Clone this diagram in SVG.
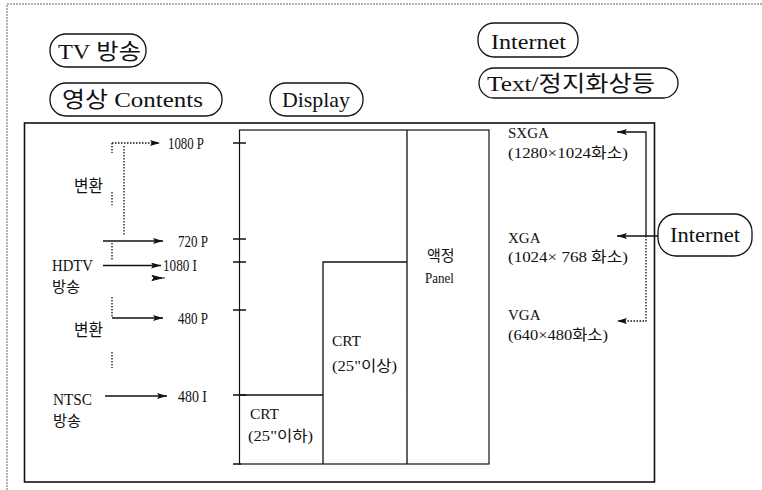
<svg xmlns="http://www.w3.org/2000/svg" width="762" height="490" viewBox="0 0 762 490">
<style>
text{font-family:"Liberation Serif","Noto Sans CJK KR",serif;fill:#111}
.lat{font-family:"Liberation Serif",serif}
.lbl{font-size:15px}
.fmt{font-size:17px}
.big{font-size:17px}
.pt{font-size:22px}
.pill{fill:#fff;stroke:#111;stroke-width:1.3}
.sol{fill:none;stroke:#111;stroke-width:1.3}
.dot{fill:none;stroke:#111;stroke-width:1.3;stroke-dasharray:1.5 1.5}
.frame{fill:none;stroke:#999;stroke-width:1.5;stroke-dasharray:2 1}
.box{fill:none;stroke:#111;stroke-width:1.6}
</style>
<defs>
<marker id="ah" viewBox="0 0 10 6" refX="10" refY="3" markerWidth="10" markerHeight="6" markerUnits="userSpaceOnUse" orient="auto">
<path d="M0,0 L10,3 L0,6 L2,3 z" fill="#111"/>
</marker>
</defs>
<rect width="762" height="490" fill="#fff"/>
<g id="frame">
<path class="frame" d="M7,490 V4 H762"/>
<rect class="box" x="24.5" y="123" width="630" height="359"/>
</g>
<g id="pill-tv">
<rect class="pill" x="50" y="34" width="96" height="33" rx="16"/>
<text class="pt" x="58" y="59" textLength="83" lengthAdjust="spacingAndGlyphs"><tspan class="lat">TV</tspan> 방송</text>
</g>
<g id="pill-contents">
<rect class="pill" x="50" y="83" width="172" height="33" rx="16"/>
<text class="pt" x="62" y="107" textLength="141" lengthAdjust="spacingAndGlyphs">영상 <tspan class="lat">Contents</tspan></text>
</g>
<g id="pill-display">
<rect class="pill" x="270" y="83" width="93" height="33" rx="16"/>
<text class="pt lat" x="282" y="107" textLength="68" lengthAdjust="spacingAndGlyphs">Display</text>
</g>
<g id="pill-internet-top">
<rect class="pill" x="478" y="23" width="100" height="34" rx="16"/>
<text class="pt lat" x="491" y="49" textLength="75" lengthAdjust="spacingAndGlyphs">Internet</text>
</g>
<g id="pill-text">
<rect class="pill" x="479" y="68" width="199" height="30" rx="15"/>
<text class="pt" x="487" y="91" textLength="168" lengthAdjust="spacingAndGlyphs"><tspan class="lat">Text/</tspan>정지화상등</text>
</g>
<g id="pill-internet-right">
<rect class="pill" x="658" y="214" width="94" height="42" rx="18"/>
<text class="pt lat" x="670" y="242" textLength="70" lengthAdjust="spacingAndGlyphs">Internet</text>
</g>
<g id="sources">
<text class="fmt" x="74" y="192" textLength="29" lengthAdjust="spacingAndGlyphs">변환</text>
<text class="big lat" x="52" y="271" textLength="41" lengthAdjust="spacingAndGlyphs">HDTV</text>
<text class="lbl" x="52" y="292" textLength="28" lengthAdjust="spacingAndGlyphs">방송</text>
<text class="fmt" x="74" y="336" textLength="29" lengthAdjust="spacingAndGlyphs">변환</text>
<text class="big lat" x="53" y="405" textLength="39" lengthAdjust="spacingAndGlyphs">NTSC</text>
<text class="lbl" x="53" y="426" textLength="28" lengthAdjust="spacingAndGlyphs">방송</text>
</g>
<g id="formats">
<text class="fmt lat" x="168" y="149" textLength="36" lengthAdjust="spacingAndGlyphs">1080 P</text>
<text class="fmt lat" x="178" y="247" textLength="30" lengthAdjust="spacingAndGlyphs">720 P</text>
<text class="fmt lat" x="163" y="271" textLength="34" lengthAdjust="spacingAndGlyphs">1080 I</text>
<text class="fmt lat" x="178" y="324" textLength="30" lengthAdjust="spacingAndGlyphs">480 P</text>
<text class="fmt lat" x="178" y="402" textLength="29" lengthAdjust="spacingAndGlyphs">480 I</text>
</g>
<g id="display">
<rect class="box" x="239.5" y="130" width="249.5" height="334" style="stroke-width:1.2"/>
<path class="sol" d="M407,130 V464 M323,464 V262 H407 M240,395 H323"/>
<path class="sol" d="M233,143 H246 M233,239 H246 M233,262 H246 M233,310 H246 M233,395 H246 M233,464 H241"/>
</g>
<g id="crt-small">
<text class="lbl lat" x="250" y="419" textLength="29" lengthAdjust="spacingAndGlyphs">CRT</text>
<text class="lbl" x="248" y="441" textLength="65" lengthAdjust="spacingAndGlyphs">(25"이하)</text>
</g>
<g id="crt-large">
<text class="lbl lat" x="332" y="346" textLength="29" lengthAdjust="spacingAndGlyphs">CRT</text>
<text class="lbl" x="332" y="371" textLength="65" lengthAdjust="spacingAndGlyphs">(25"이상)</text>
</g>
<g id="lcd">
<text class="lbl" x="427" y="261">액정</text>
<text class="lbl lat" x="425" y="283" textLength="29" lengthAdjust="spacingAndGlyphs">Panel</text>
</g>
<g id="resolutions">
<text class="lbl lat" x="508" y="138">SXGA</text>
<text class="lbl" x="508" y="158" textLength="120" lengthAdjust="spacingAndGlyphs">(1280×1024화소)</text>
<text class="lbl lat" x="508" y="243">XGA</text>
<text class="lbl" x="508" y="262" textLength="120" lengthAdjust="spacingAndGlyphs">(1024× 768 화소)</text>
<text class="lbl lat" x="508" y="320">VGA</text>
<text class="lbl" x="508" y="340" textLength="100" lengthAdjust="spacingAndGlyphs">(640×480화소)</text>
</g>
<g id="connectors">
<path class="dot" d="M112,143 H160" marker-end="url(#ah)"/>
<path class="dot" d="M112,143 V153 M112,192 V205 M124,146 V236 M112,243 V260 M112,297 V318 M112,352 V368"/>
<path class="sol" d="M103,241 H163" marker-end="url(#ah)"/>
<path class="sol" d="M103,265.5 H161" marker-end="url(#ah)"/>
<path d="M152,275.5 L162,278 L152,280.5 L154,278 z M154,278 H165" fill="#111" stroke="#111" stroke-width="1"/>
<path class="sol" d="M112,318 H163" marker-end="url(#ah)"/>
<path class="sol" d="M105,396 H167" marker-end="url(#ah)"/>
<path class="sol" d="M646,236 V132 H617" marker-end="url(#ah)"/>
<path class="sol" d="M658,236 H617" marker-end="url(#ah)"/>
<path class="dot" d="M646,236 V321 H617" marker-end="url(#ah)"/>
</g>
</svg>
